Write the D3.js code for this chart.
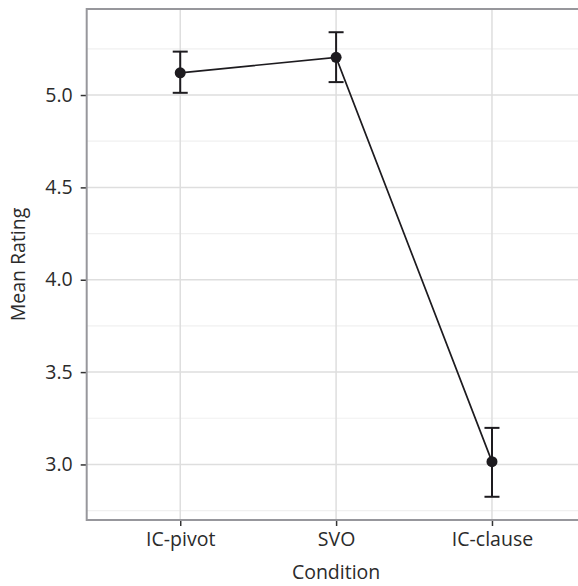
<!DOCTYPE html>
<html><head><meta charset="utf-8">
<script src="https://cdn.jsdelivr.net/npm/d3@7"></script>
<style>html,body{margin:0;background:#fff;overflow:hidden;width:578px;height:586px}svg{display:block;overflow:hidden}text{font-family:"Open Sans",sans-serif}</style>
</head><body>
<script>
const categories = ["IC-pivot", "SVO", "IC-clause"];
const means = [5.12, 5.204, 3.015];
const lower = [5.012, 5.07, 2.825];
const upper = [5.235, 5.34, 3.198];
const yTicks = [3.0, 3.5, 4.0, 4.5, 5.0];
const yMinor = [2.75, 3.25, 3.75, 4.25, 4.75, 5.25];

const W = 578, H = 586;
const L = 86.7, R = 585.5, T = 9, B = 520;
const FS = "19.5px";
const svg = d3.select("body").append("svg").attr("width", W).attr("height", H);
const root = svg.append("g");

const lo = d3.min(lower), hi = d3.max(upper), ex = (hi - lo) * 0.05;
const y = d3.scaleLinear().domain([lo - ex, hi + ex]).range([B, T]);
const x = d3.scalePoint().domain(categories).range([L, R]).padding(0.6);
const RV = Math.min(R, W);

const g = root.append("g");
g.selectAll(".ymin").data(yMinor).join("line")
  .attr("x1", L).attr("x2", RV).attr("y1", d => y(d)).attr("y2", d => y(d))
  .attr("stroke", "#f0f0f0").attr("stroke-width", 1.2);
g.selectAll(".ymaj").data(yTicks).join("line")
  .attr("x1", L).attr("x2", RV).attr("y1", d => y(d)).attr("y2", d => y(d))
  .attr("stroke", "#dedede").attr("stroke-width", 1.5);
g.selectAll(".xmaj").data(categories).join("line")
  .attr("y1", T).attr("y2", B).attr("x1", d => x(d)).attr("x2", d => x(d))
  .attr("stroke", "#dedede").attr("stroke-width", 1.5);

// axes
const yAxis = d3.axisLeft(y).tickValues(yTicks).tickFormat(d3.format(".1f")).tickSize(6).tickPadding(8);
const ya = root.append("g").attr("transform", `translate(${L},0)`).call(yAxis);
const xAxis = d3.axisBottom(x).tickSize(6).tickPadding(6);
const xa = root.append("g").attr("transform", `translate(0,${B})`).call(xAxis);
[ya, xa].forEach(a => {
  a.select(".domain").remove();
  a.selectAll(".tick line").attr("stroke", "#333").attr("stroke-width", 1.5);
  a.selectAll(".tick text").attr("fill", "#2b2b2b").style("font-size", FS).style("font-family", '"Open Sans",sans-serif');
});

// line
const pts = categories.map((c, i) => [x(c), y(means[i])]);
root.append("path").attr("d", d3.line()(pts)).attr("fill", "none")
  .attr("stroke", "#1d1b1f").attr("stroke-width", 1.7);

// error bars
const eb = root.append("g").attr("stroke", "#1d1b1f").attr("stroke-width", 2).attr("fill", "none");
categories.forEach((c, i) => {
  const cx = x(c);
  eb.append("line").attr("x1", cx).attr("x2", cx).attr("y1", y(lower[i])).attr("y2", y(upper[i]));
  eb.append("line").attr("x1", cx - 7.5).attr("x2", cx + 7.5).attr("y1", y(lower[i])).attr("y2", y(lower[i]));
  eb.append("line").attr("x1", cx - 7.5).attr("x2", cx + 7.5).attr("y1", y(upper[i])).attr("y2", y(upper[i]));
});
root.selectAll(".pt").data(categories).join("circle")
  .attr("cx", d => x(d)).attr("cy", (d, i) => y(means[i])).attr("r", 5.5).attr("fill", "#1d1b1f");

// panel border (right side falls outside the picture)
root.append("path")
  .attr("d", `M${RV},${T}H${L}V${B}H${RV}`)
  .attr("fill", "none").attr("stroke", "#97979c").attr("stroke-width", 2);

// titles
root.append("text").attr("x", (L + R) / 2).attr("y", 579).attr("text-anchor", "middle")
  .attr("fill", "#2b2b2b").style("font-size", FS).text("Condition");
root.append("text").attr("transform", `translate(25,${(T + B) / 2}) rotate(-90)`).attr("text-anchor", "middle")
  .attr("fill", "#2b2b2b").style("font-size", FS).text("Mean Rating");
</script>
</body></html>
